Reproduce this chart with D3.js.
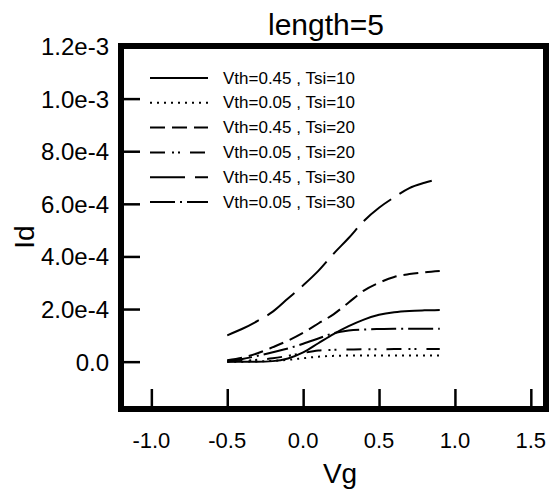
<!DOCTYPE html>
<html><head><meta charset="utf-8">
<script src="https://cdn.jsdelivr.net/npm/d3@7"></script>
<style>body{margin:0;background:#fff}svg{display:block}text{font-family:"Liberation Sans",Arial,sans-serif;fill:#000}</style>
</head><body>
<script>
const vg = [-0.5,-0.4,-0.3,-0.2,-0.1,0.0,0.1,0.2,0.3,0.4,0.5,0.6,0.7,0.8,0.9];
const labels = ["Vth=0.45 , Tsi=10","Vth=0.05 , Tsi=10","Vth=0.45 , Tsi=20","Vth=0.05 , Tsi=20","Vth=0.45 , Tsi=30","Vth=0.05 , Tsi=30"];
const s1 = [0,0,0,0.02e-4,0.12e-4,0.35e-4,0.7e-4,1.05e-4,1.35e-4,1.6e-4,1.78e-4,1.88e-4,1.93e-4,1.95e-4,1.96e-4];
const s2 = [0,0,0.01e-4,0.03e-4,0.07e-4,0.13e-4,0.19e-4,0.22e-4,0.23e-4,0.23e-4,0.23e-4,0.23e-4,0.23e-4,0.23e-4,0.23e-4];
const s3 = [0.05e-4,0.15e-4,0.32e-4,0.55e-4,0.8e-4,1.1e-4,1.45e-4,1.8e-4,2.25e-4,2.7e-4,3.0e-4,3.22e-4,3.33e-4,3.4e-4,3.45e-4];
const s4 = [0,0.03e-4,0.07e-4,0.13e-4,0.22e-4,0.33e-4,0.42e-4,0.45e-4,0.46e-4,0.47e-4,0.47e-4,0.48e-4,0.48e-4,0.48e-4,0.48e-4];
const s5 = [1.0e-4,1.25e-4,1.55e-4,1.9e-4,2.4e-4,2.9e-4,3.45e-4,4.1e-4,4.7e-4,5.35e-4,5.85e-4,6.25e-4,6.6e-4,6.8e-4,6.95e-4];
const s6 = [0.03e-4,0.1e-4,0.22e-4,0.36e-4,0.5e-4,0.68e-4,0.88e-4,1.08e-4,1.18e-4,1.22e-4,1.24e-4,1.25e-4,1.25e-4,1.25e-4,1.25e-4];
const xTicks = [-1.0,-0.5,0.0,0.5,1.0,1.5];
const xTickLabels = ["-1.0","-0.5","0.0","0.5","1.0","1.5"];
const yTicks = [0,2e-4,4e-4,6e-4,8e-4,1.0e-3,1.2e-3];
const yTickLabels = ["0.0","2.0e-4","4.0e-4","6.0e-4","8.0e-4","1.0e-3","1.2e-3"];

const series = [s1,s2,s3,s4,s5,s6];
const dashes = [null,"2,5","15,7","15,7,2,4,2,10","35,10","25,5,2,5"];

const W=555,H=495;
const L=121,R=546,T=46,B=409;
const svg=d3.select("body").append("svg").attr("width",W).attr("height",H);
const x=d3.scaleLinear().domain([-1.2,1.6]).range([L,R]);
const y=d3.scaleLinear().domain([-1.8e-4,1.2e-3]).range([B,T]);

// ticks inward
const xa=d3.axisTop(x).tickValues(xTicks).tickSize(20).tickFormat("");
const gx=svg.append("g").attr("transform",`translate(0,${B})`).call(xa);
gx.select(".domain").remove();
gx.selectAll("line").attr("stroke","#000").attr("stroke-width",2.5);
const ya=d3.axisRight(y).tickValues(yTicks).tickSize(19).tickFormat("");
const gy=svg.append("g").attr("transform",`translate(${L},0)`).call(ya);
gy.select(".domain").remove();
gy.selectAll("line").attr("stroke","#000").attr("stroke-width",2.5);

// tick labels
svg.append("g").selectAll("text").data(xTicks).join("text")
  .attr("x",d=>x(d)).attr("y",448).attr("text-anchor","middle")
  .style("font-size","22px").text((d,i)=>xTickLabels[i]);
svg.append("g").selectAll("text").data(yTicks).join("text")
  .attr("x",109).attr("y",d=>y(d)+9).attr("text-anchor","end")
  .style("font-size","24px").text((d,i)=>yTickLabels[i]);

// frame
svg.append("rect").attr("x",L).attr("y",T).attr("width",R-L).attr("height",B-T)
  .attr("fill","none").attr("stroke","#000").attr("stroke-width",6);

// curves
const line=d3.line().x((d,i)=>x(vg[i])).y(d=>y(d)).curve(d3.curveMonotoneX);
series.forEach((s,k)=>{
  svg.append("path").datum(s).attr("d",line).attr("fill","none")
    .attr("stroke","#000").attr("stroke-width",2)
    .attr("stroke-dasharray",dashes[k]);
});

// legend
labels.forEach((lab,k)=>{
  const yy=78+k*24.8;
  svg.append("line").attr("x1",150).attr("x2",208).attr("y1",yy).attr("y2",yy)
    .attr("stroke","#000").attr("stroke-width",2).attr("stroke-dasharray",dashes[k]);
  svg.append("text").attr("x",223).attr("y",yy+5.5).style("font-size","17px").text(lab);
});

// titles
svg.append("text").attr("x",326).attr("y",35).attr("text-anchor","middle").style("font-size","30px").text("length=5");
svg.append("text").attr("x",340).attr("y",483).attr("text-anchor","middle").style("font-size","28px").text("Vg");
svg.append("text").attr("transform","translate(34,237) rotate(-90)").attr("text-anchor","middle").style("font-size","28px").text("Id");
</script>
</body></html>
